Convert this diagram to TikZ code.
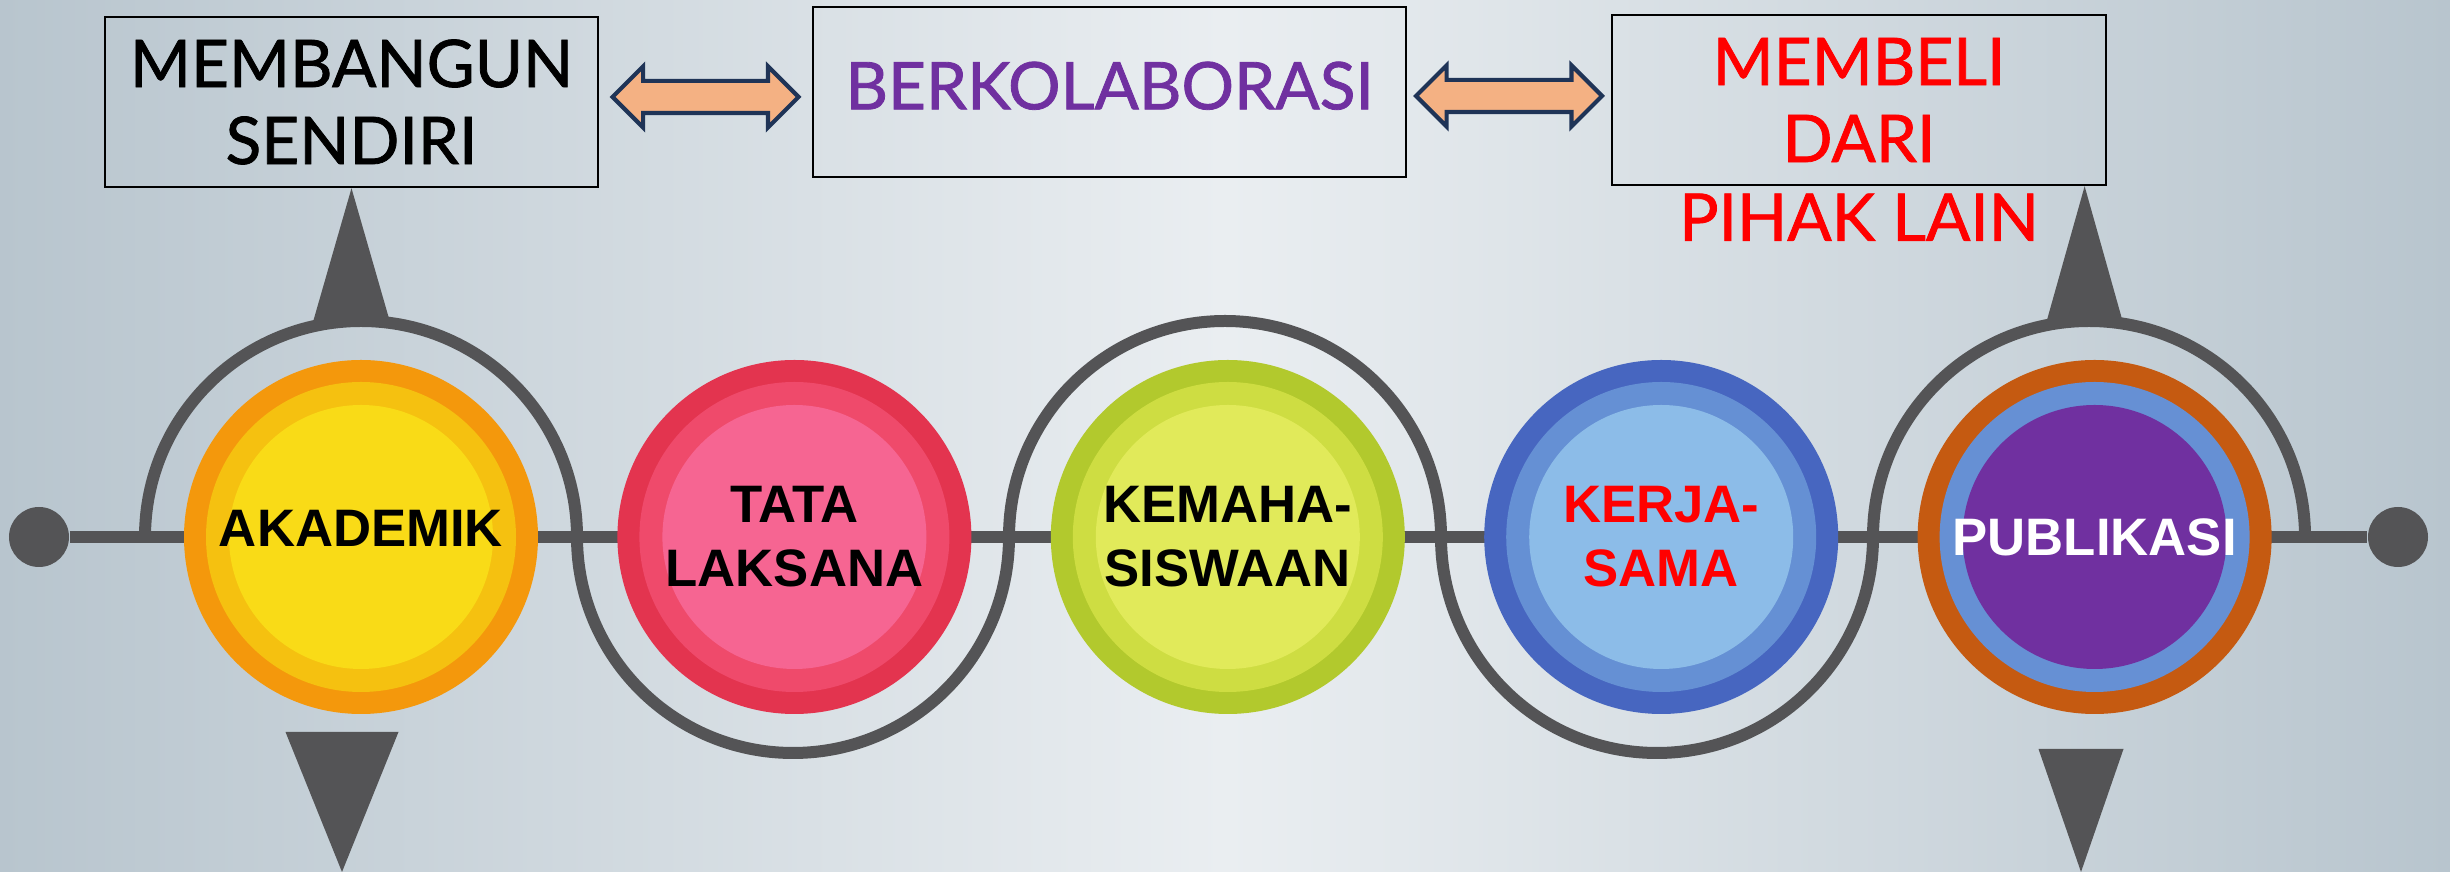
\documentclass[tikz,border=0pt]{standalone}
\usepackage{fontspec}
\setmainfont{Liberation Sans}
\newfontfamily\headfont{Lato}[FakeBold=1.2]
\usetikzlibrary{shapes.arrows, positioning, calc}
\definecolor{track}{RGB}{84, 84, 86}
\definecolor{bgedge}{RGB}{184, 197, 206}
\definecolor{bgmid}{RGB}{234, 238, 241}
\definecolor{swapfill}{RGB}{244, 177, 131}
\definecolor{swapline}{RGB}{31, 52, 87}
\definecolor{collabpurple}{RGB}{112, 48, 160}
\definecolor{buyred}{RGB}{255, 0, 0}
\definecolor{akA}{RGB}{244, 152, 12}
\definecolor{akB}{RGB}{245, 193, 16}
\definecolor{akC}{RGB}{249, 219, 23}
\definecolor{tlA}{RGB}{227, 52, 79}
\definecolor{tlB}{RGB}{239, 74, 107}
\definecolor{tlC}{RGB}{246, 101, 146}
\definecolor{kmA}{RGB}{178, 201, 45}
\definecolor{kmB}{RGB}{206, 221, 66}
\definecolor{kmC}{RGB}{225, 234, 90}
\definecolor{kjA}{RGB}{71, 102, 192}
\definecolor{kjB}{RGB}{101, 144, 212}
\definecolor{kjC}{RGB}{140, 188, 232}
\definecolor{pbA}{RGB}{197, 90, 17}
\definecolor{pbB}{RGB}{102, 144, 212}
\definecolor{pbC}{RGB}{112, 48, 160}

\begin{document}
\begin{tikzpicture}[
    node distance=0.78cm,
    optbox/.style={rectangle, draw=black, line width=0.7pt, minimum width=#1, minimum height=1.7cm, inner sep=0pt, align=center, font=\headfont\fontsize{18.7}{21.9}\selectfont},
    unit/.style n args={3}{circle, minimum size=3.54cm, inner sep=0pt, fill=#1, align=center, font=\bfseries\fontsize{15}{18.2}\selectfont,
        path picture={\fill[#2] (path picture bounding box.center) circle (1.55cm);
                      \fill[#3] (path picture bounding box.center) circle (1.32cm);}},
    swap/.style={double arrow, draw=swapline, line width=1.2pt, fill=swapfill, minimum height=1.86cm, minimum width=0.57cm,
        double arrow head extend=0.145cm, double arrow tip angle=90, inner xsep=0pt, inner ysep=0.14cm, text height=0pt, text depth=0pt},
    dot/.style={circle, fill=track, minimum size=0.6cm, inner sep=0pt},
    wire/.style={draw=track, line width=0.12cm},
    pointer/.style={fill=track}
]
    \shade[left color=bgedge, right color=bgedge, middle color=bgmid] (0,0) rectangle (24.5,8.72);

    % track
    \node[dot] (ldot) at (0.39,3.35) {};
    \node[dot] (rdot) at (23.98,3.35) {};
    \draw[wire] (ldot) -- (rdot);

    \node[unit={akA}{akB}{akC}] (ak) at (3.61,3.35) {\raisebox{0.17cm}{AKADEMIK}};
    \node[unit={tlA}{tlB}{tlC}, right=of ak] (tl) {TATA\\LAKSANA};
    \node[unit={kmA}{kmB}{kmC}, right=of tl] (km) {KEMAHA-\\SISWAAN};
    \node[unit={kjA}{kjB}{kjC}, right=of km, text=buyred] (kj) {KERJA-\\SAMA};
    \node[unit={pbA}{pbB}{pbC}, right=of kj, text=white] (pb) {PUBLIKASI};

    \draw[wire] ($(ak.center)+(-2.16,0)$) arc (180:0:2.16) arc (180:360:2.16) arc (180:0:2.16)
        arc (180:360:2.16) arc (180:0:2.16);

    % options
    \node[optbox=4.93cm] (build) at (3.515,7.70) {MEMBANGUN\\SENDIRI};
    \node[optbox=5.93cm, text=collabpurple] (collab) at (11.095,7.80) {\raisebox{0.13cm}{BERKOLABORASI}};
    \node[optbox=4.94cm, text=buyred] (buy) at (18.59,7.72) {MEMBELI\\DARI};
    \node[inner sep=0pt, text=buyred, font=\headfont\fontsize{18.7}{21.9}\selectfont] (buy2) at ($(buy.south)+(0,-0.31)$) {PIHAK LAIN};

    \node[swap] (sw1) at ($(build.east)!0.5!(collab.west)$) {};
    \node[swap] (sw2) at ($(collab.east)!0.5!(buy.west)$) {};

    % pointers
    \coordinate (akend) at (3.42,0);
    \coordinate (pbend) at (20.81,0);
    \fill[pointer] (build.south) -- ++(0.38,-1.32) -- ++(-0.76,0) -- cycle;
    \fill[pointer] ($(pb.center |- buy.south)+(-0.1,0)$) -- ++(0.38,-1.35) -- ++(-0.76,0) -- cycle;
    \fill[pointer] (akend) -- ++(-0.565,1.40) -- ++(1.13,0) -- cycle;
    \fill[pointer] (pbend) -- ++(-0.425,1.23) -- ++(0.85,0) -- cycle;
\end{tikzpicture}
\end{document}
